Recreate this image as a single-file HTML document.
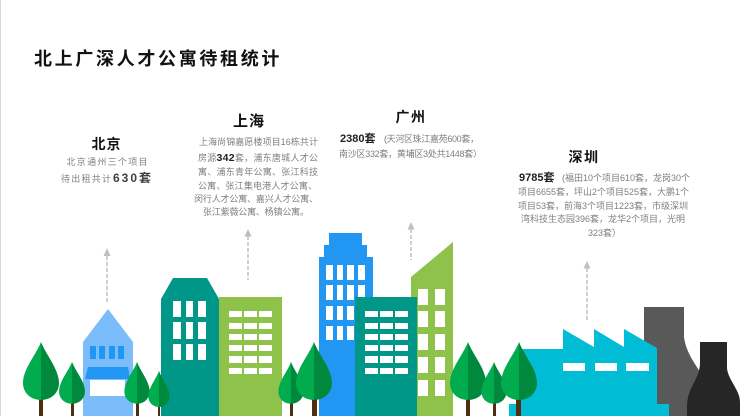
<!DOCTYPE html>
<html lang="zh">
<head>
<meta charset="utf-8">
<style>
html,body{margin:0;padding:0;background:#fff;width:740px;height:416px;overflow:hidden}
svg{display:block}
text{font-family:"Liberation Sans","Noto Sans CJK SC",sans-serif;fill:#7f7f7f;font-size:9px}
.h{font-family:"Noto Sans CJK SC",sans-serif;font-weight:700;fill:#111;text-anchor:middle}
.b{font-weight:700;fill:#222}
.m{text-anchor:middle}
</style>
</head>
<body>
<svg width="740" height="416" viewBox="0 0 740 416" xmlns="http://www.w3.org/2000/svg">
<defs>
<g id="tree">
<path d="M0,0C-5,13-18,27-18,41C-18,51-10,58 0,58Z" fill="#00ac4e"/>
<path d="M0,0C5,13 18,27 18,41C18,51 10,58 0,58Z" fill="#00893c"/>
</g>
</defs>
<rect x="0" y="0" width="1" height="416" fill="#d9d9d9"/>

<text class="h" x="34" y="65" style="text-anchor:start;font-size:18px;letter-spacing:2.6px" textLength="248">北上广深人才公寓待租统计</text>

<!-- arrows -->
<g stroke="#bfbfbf" stroke-width="1.5" stroke-dasharray="4 2" fill="none">
<path d="M107 256V303"/><path d="M248 236V280"/><path d="M411 229V260"/><path d="M587 268V320"/>
</g>
<g fill="#bfbfbf">
<path d="M107 248l3.500 8h-7z"/><path d="M248 229l3.500 7.500h-7z"/><path d="M411 222l3.500 7.500h-7z"/><path d="M587 261l3.500 7.500h-7z"/>
</g>

<!-- factory / towers -->
<path d="M644 307H684V337C686 352 694 362 700 372V416H644Z" fill="#595959"/>
<path d="M700 342H727V368C728 380 740 390 740 402V416H687V405C688 385 700 380 700 362Z" fill="#262626"/>
<path d="M520 349H563V329L594 347V329L624 347V329L657 348V404H669V416H509V404H520Z" fill="#00bcd4"/>
<g fill="#fff"><rect x="563" y="363" width="22" height="8"/><rect x="595" y="363" width="22" height="8"/><rect x="626" y="363" width="23" height="8"/></g>

<!-- house -->
<path d="M108 309L133 342V416H83V342Z" fill="#7bbdfa"/>
<g fill="#2196f3"><rect x="90" y="346" width="6" height="13"/><rect x="99" y="346" width="6" height="13"/><rect x="109" y="346" width="6" height="13"/><rect x="118" y="346" width="6" height="13"/><path d="M88 367H128L130 379H85Z"/></g>
<rect x="90" y="380" width="35" height="16" fill="#fff"/>

<!-- teal building -->
<path d="M173 278H207L219 299V416H161V299Z" fill="#009688"/>
<g fill="#fff">
<rect x="173" y="301" width="8" height="16"/><rect x="186" y="301" width="7" height="16"/><rect x="198" y="301" width="8" height="16"/>
<rect x="173" y="322" width="8" height="17"/><rect x="186" y="322" width="7" height="17"/><rect x="198" y="322" width="8" height="17"/>
<rect x="173" y="344" width="8" height="16"/><rect x="186" y="344" width="7" height="16"/><rect x="198" y="344" width="8" height="16"/>
</g>

<!-- green building -->
<rect x="219" y="297" width="63" height="119" fill="#8fc24a"/>
<g fill="#fff">
<rect x="229" y="311" width="13" height="6"/><rect x="244" y="311" width="13" height="6"/><rect x="259" y="311" width="13" height="6"/>
<rect x="229" y="323" width="13" height="6"/><rect x="244" y="323" width="13" height="6"/><rect x="259" y="323" width="13" height="6"/>
<rect x="229" y="334" width="13" height="6"/><rect x="244" y="334" width="13" height="6"/><rect x="259" y="334" width="13" height="6"/>
<rect x="229" y="345" width="13" height="6"/><rect x="244" y="345" width="13" height="6"/><rect x="259" y="345" width="13" height="6"/>
<rect x="229" y="356" width="13" height="7"/><rect x="244" y="356" width="13" height="7"/><rect x="259" y="356" width="13" height="7"/>
<rect x="229" y="368" width="13" height="6"/><rect x="244" y="368" width="13" height="6"/><rect x="259" y="368" width="13" height="6"/>
</g>

<!-- blue tower -->
<path d="M329 233H362V245H367V257H373V416H319V257H324V245H329Z" fill="#2196f3"/>
<g fill="#fff">
<rect x="326" y="265" width="7" height="15"/><rect x="337" y="265" width="6" height="15"/><rect x="347" y="265" width="7" height="15"/><rect x="358" y="265" width="7" height="15"/>
<rect x="326" y="285" width="7" height="15"/><rect x="337" y="285" width="6" height="15"/><rect x="347" y="285" width="7" height="15"/><rect x="358" y="285" width="7" height="15"/>
<rect x="326" y="306" width="7" height="14"/><rect x="337" y="306" width="6" height="14"/><rect x="347" y="306" width="7" height="14"/><rect x="358" y="306" width="7" height="14"/>
<rect x="326" y="326" width="7" height="14"/><rect x="337" y="326" width="6" height="14"/><rect x="347" y="326" width="7" height="14"/>
</g>

<!-- tall green -->
<path d="M411 277L453 242V416H411Z" fill="#8fc24a"/>
<g fill="#fff">
<rect x="418" y="289" width="10" height="16"/><rect x="435" y="289" width="10" height="16"/>
<rect x="418" y="311" width="10" height="16"/><rect x="435" y="311" width="10" height="16"/>
<rect x="418" y="334" width="10" height="16"/><rect x="435" y="334" width="10" height="16"/>
<rect x="418" y="357" width="10" height="16"/><rect x="435" y="357" width="10" height="16"/>
<rect x="418" y="380" width="10" height="16"/><rect x="435" y="380" width="10" height="16"/>
</g>

<!-- dark teal -->
<rect x="355" y="297" width="62" height="119" fill="#009688"/>
<g fill="#fff">
<rect x="365" y="311" width="13" height="6"/><rect x="380" y="311" width="13" height="6"/><rect x="395" y="311" width="13" height="6"/>
<rect x="365" y="323" width="13" height="6"/><rect x="380" y="323" width="13" height="6"/><rect x="395" y="323" width="13" height="6"/>
<rect x="365" y="334" width="13" height="6"/><rect x="380" y="334" width="13" height="6"/><rect x="395" y="334" width="13" height="6"/>
<rect x="365" y="345" width="13" height="6"/><rect x="380" y="345" width="13" height="6"/><rect x="395" y="345" width="13" height="6"/>
<rect x="365" y="356" width="13" height="7"/><rect x="380" y="356" width="13" height="7"/><rect x="395" y="356" width="13" height="7"/>
<rect x="365" y="368" width="13" height="6"/><rect x="380" y="368" width="13" height="6"/><rect x="395" y="368" width="13" height="6"/>
</g>

<!-- trunks -->
<g fill="#4e2f10">
<rect x="39" y="396" width="4" height="20"/><rect x="71" y="400" width="3" height="16"/><rect x="136" y="400" width="3" height="16"/><rect x="158" y="403" width="2" height="13"/>
<rect x="290" y="400" width="3" height="16"/><rect x="312" y="396" width="5" height="20"/><rect x="466" y="396" width="4" height="20"/><rect x="493" y="400" width="3" height="16"/><rect x="516" y="396" width="5" height="20"/>
</g>
<!-- trees -->
<use href="#tree" transform="translate(41 342)"/>
<use href="#tree" transform="translate(72 362) scale(.72 .72)"/>
<use href="#tree" transform="translate(137 362) scale(.7 .72)"/>
<use href="#tree" transform="translate(159 371) scale(.59 .62)"/>
<use href="#tree" transform="translate(291 362) scale(.7 .72)"/>
<use href="#tree" transform="translate(314 342)"/>
<use href="#tree" transform="translate(468 342)"/>
<use href="#tree" transform="translate(494 362) scale(.7 .72)"/>
<use href="#tree" transform="translate(519 342)"/>

<!-- 北京 -->
<text class="h" x="106.500" y="149" style="font-size:14px;letter-spacing:1px">北京</text>
<text class="m" x="107" y="165" textLength="81" style="font-size:9px">北京通州三个项目</text>
<text x="61" y="182" style="font-size:9px" textLength="50">待出租共计</text>
<text class="b" x="113" y="182" style="font-size:12px;fill:#404040;letter-spacing:1px" textLength="39">630套</text>

<!-- 上海 -->
<text class="h" x="249" y="126" style="font-size:15px;letter-spacing:1px">上海</text>
<text x="199" y="145" textLength="119">上海尚锦嘉愿楼项目16栋共计</text>
<text x="198" y="161" textLength="120">房源<tspan class="b" style="font-size:10.500px">342</tspan>套，浦东唐城人才公</text>
<text x="198" y="175" textLength="120">寓、浦东青年公寓、张江科技</text>
<text x="198" y="189" textLength="119">公寓、张江集电港人才公寓、</text>
<text x="194" y="202" textLength="124">闵行人才公寓、嘉兴人才公寓、</text>
<text x="203" y="215" textLength="106">张江紫薇公寓、杨镇公寓。</text>

<!-- 广州 -->
<text class="h" x="411" y="122" style="font-size:14px;letter-spacing:1.500px">广州</text>
<text class="b" x="340" y="142" style="font-size:11px">2380套</text>
<text x="384" y="142" textLength="95">(天河区珠江嘉苑600套，</text>
<text x="339" y="157" textLength="143">南沙区332套，黄埔区3处共1448套）</text>

<!-- 深圳 -->
<text class="h" x="584" y="162" style="font-size:14px;letter-spacing:1.500px">深圳</text>
<text class="b" x="519" y="181" style="font-size:11px">9785套</text>
<text x="562" y="181">(福田10个项目610套，龙岗30个</text>
<text x="518" y="195">项目6655套，坪山2个项目525套，大鹏1个</text>
<text x="518" y="209">项目53套，前海3个项目1223套，市级深圳</text>
<text x="521" y="222">湾科技生态园396套，龙华2个项目，光明</text>
<text x="588" y="236">323套）</text>
</svg>
</body>
</html>
